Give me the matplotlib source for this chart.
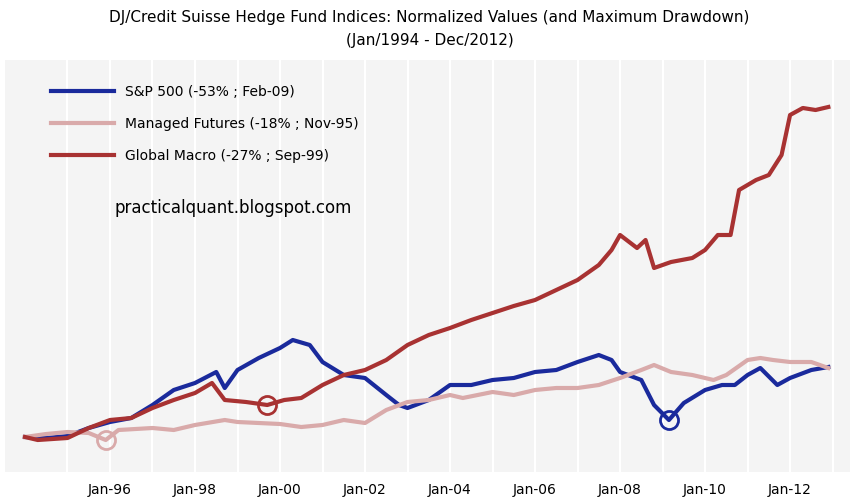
import numpy as np
import matplotlib
matplotlib.use("Agg")
import matplotlib.pyplot as plt

# normalized values (start = 1.0)
sp_t = [1994.0, 1994.5, 1995.0, 1995.5, 1996.0, 1996.5, 1997.0, 1997.5, 1998.0, 1998.5, 1998.7,
        1999.0, 1999.5, 2000.0, 2000.3, 2000.7, 2001.0, 2001.5, 2002.0, 2002.5, 2002.8, 2003.0,
        2003.5, 2004.0, 2004.5, 2005.0, 2005.5, 2006.0, 2006.5, 2007.0, 2007.5, 2007.8, 2008.0,
        2008.5, 2008.8, 2009.15, 2009.5, 2010.0, 2010.4, 2010.7, 2011.0, 2011.3, 2011.7, 2012.0,
        2012.5, 2012.9]
sp_v = [1.00, 0.99, 1.01, 1.09, 1.15, 1.19, 1.32, 1.47, 1.54, 1.65, 1.49,
        1.67, 1.79, 1.89, 1.97, 1.92, 1.75, 1.62, 1.59, 1.42, 1.32, 1.29,
        1.37, 1.52, 1.52, 1.57, 1.59, 1.65, 1.67, 1.75, 1.82, 1.77, 1.65,
        1.57, 1.32, 1.17, 1.34, 1.47, 1.52, 1.52, 1.62, 1.69, 1.52, 1.59,
        1.67, 1.70]

mf_t = [1994.0, 1994.5, 1995.0, 1995.5, 1995.9, 1996.2, 1997.0, 1997.5, 1998.0, 1998.7, 1999.0,
        2000.0, 2000.5, 2001.0, 2001.5, 2002.0, 2002.5, 2003.0, 2003.5, 2004.0, 2004.3, 2005.0,
        2005.5, 2006.0, 2006.5, 2007.0, 2007.5, 2008.0, 2008.5, 2008.8, 2009.2, 2009.7, 2010.2,
        2010.5, 2011.0, 2011.3, 2011.6, 2012.0, 2012.5, 2012.9]
mf_v = [1.00, 1.03, 1.05, 1.04, 0.97, 1.07, 1.09, 1.07, 1.12, 1.17, 1.15,
        1.13, 1.10, 1.12, 1.17, 1.14, 1.27, 1.35, 1.37, 1.42, 1.39, 1.45,
        1.42, 1.47, 1.49, 1.49, 1.52, 1.59, 1.67, 1.72, 1.65, 1.62, 1.57,
        1.62, 1.77, 1.79, 1.77, 1.75, 1.75, 1.69]

gm_t = [1994.0, 1994.3, 1995.0, 1995.5, 1996.0, 1996.5, 1997.0, 1997.5, 1998.0, 1998.4, 1998.7,
        1999.2, 1999.7, 2000.1, 2000.5, 2001.0, 2001.5, 2002.0, 2002.5, 2003.0, 2003.5, 2004.0,
        2004.5, 2005.0, 2005.5, 2006.0, 2006.5, 2007.0, 2007.5, 2007.8, 2008.0, 2008.4, 2008.6,
        2008.8, 2009.2, 2009.7, 2010.0, 2010.3, 2010.6, 2010.8, 2011.2, 2011.5, 2011.8, 2012.0,
        2012.3, 2012.6, 2012.9]
gm_v = [1.00, 0.97, 0.99, 1.09, 1.17, 1.19, 1.29, 1.37, 1.44, 1.54, 1.37,
        1.35, 1.32, 1.37, 1.39, 1.52, 1.62, 1.67, 1.77, 1.92, 2.02, 2.09,
        2.17, 2.24, 2.31, 2.37, 2.47, 2.57, 2.72, 2.87, 3.02, 2.89, 2.97,
        2.69, 2.75, 2.79, 2.87, 3.02, 3.02, 3.47, 3.57, 3.62, 3.82, 4.22,
        4.29, 4.27, 4.30]

labels = ["S&P 500 (-53% ; Feb-09)", "Managed Futures (-18% ; Nov-95)", "Global Macro (-27% ; Sep-99)"]
colors = ["#1a2a9c", "#d9aaaa", "#a83232"]
dd_t = [2009.15, 1995.9, 1999.7]  # max drawdown points

fig = plt.figure(figsize=(8.59, 5.0), dpi=100)
ax = fig.add_axes([5 / 859, 28 / 500, 845 / 859, 412 / 500])
ax.set_facecolor("#f4f4f4")
for s in ax.spines.values():
    s.set_visible(False)

series = [(sp_t, sp_v), (mf_t, mf_v), (gm_t, gm_v)]
for (t, v), lab, c, d in zip(series, labels, colors, dd_t):
    ax.plot(t, v, color=c, lw=3, label=lab)
    ax.plot(d, np.interp(d, t, v), "o", ms=13, mfc="none", mec=c, mew=2)

ax.set_xlim(1993.53, 2013.41)
ax.set_ylim(0.65, 4.77)
ax.set_xticks(np.arange(1995, 2014))
ax.set_xticklabels([f"Jan-{y % 100:02d}" if y % 2 == 0 else "" for y in range(1995, 2014)])
ax.set_xticks(np.arange(1996, 2013, 2) + 0.0)
ax.set_xticklabels([f"Jan-{y % 100:02d}" for y in range(1996, 2013, 2)])
ax.set_xticks(np.arange(1995, 2014), minor=True)
ax.grid(True, which="both", axis="x", color="white", lw=1.5)
ax.tick_params(axis="x", which="both", length=0, labelsize=10, pad=8)
ax.set_yticks([])

ax.legend(loc="upper left", bbox_to_anchor=(0.04, 0.97), frameon=False, fontsize=10,
          handlelength=4.5, labelspacing=1.3)
ax.text(110 / 845, (472 - 208) / 412, "practicalquant.blogspot.com", transform=ax.transAxes,
        fontsize=12, va="center")

fig.text(0.5, 0.965, "DJ/Credit Suisse Hedge Fund Indices: Normalized Values (and Maximum Drawdown)",
         ha="center", va="center", fontsize=11)
fig.text(0.5, 0.92, "(Jan/1994 - Dec/2012)", ha="center", va="center", fontsize=11)

fig.savefig("out.png", dpi=100)
